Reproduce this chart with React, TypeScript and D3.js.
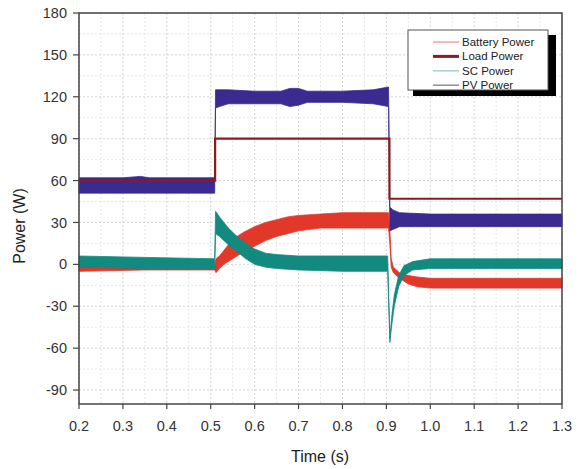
import * as d3 from "d3";

// envelopes of the switching ripple: [time, low, high]
const pvBand: [number, number, number][] = [
  [0.2, 51, 62], [0.3, 51, 62], [0.34, 51, 63], [0.36, 51, 62], [0.509, 51, 62],
  [0.511, 112, 125], [0.52, 113, 125], [0.54, 115, 125], [0.6, 115, 124],
  [0.66, 115, 124], [0.68, 113, 126], [0.7, 114, 126], [0.72, 116, 124],
  [0.8, 116, 124], [0.87, 115, 125], [0.905, 113, 127],
  [0.908, 24, 41], [0.915, 25, 39], [0.93, 27, 37], [1.0, 27, 36], [1.3, 27, 36],
];

const batteryBand: [number, number, number][] = [
  [0.2, -5, -1], [0.35, -4, -1], [0.509, -4, -1], [0.512, -6, 4], [0.52, -3, 6],
  [0.53, 0, 10], [0.55, 4, 18], [0.575, 9, 23], [0.6, 13, 27], [0.625, 17, 30],
  [0.65, 20, 32], [0.675, 22, 34], [0.7, 24, 35], [0.75, 26, 36], [0.8, 26, 37],
  [0.905, 26, 37], [0.908, 14, 24], [0.911, -2, 4], [0.916, -6, -2],
  [0.93, -10, -6], [0.95, -14, -8], [0.97, -16, -9], [1.0, -17, -10], [1.3, -17, -10],
];

const scBand: [number, number, number][] = [
  [0.2, -2, 6], [0.35, -3, 5], [0.509, -3, 4], [0.511, 22, 38], [0.52, 20, 34],
  [0.54, 14, 26], [0.56, 9, 20], [0.58, 4, 15], [0.6, 0, 11], [0.625, -2, 8],
  [0.65, -3, 7], [0.7, -4, 6], [0.8, -5, 6], [0.903, -5, 6],
  [0.908, -56, -53], [0.912, -44, -38], [0.918, -30, -22], [0.928, -16, -8],
  [0.94, -8, -1], [0.96, -4, 2], [1.0, -3, 4], [1.3, -3, 4],
];

const loadSteps: [number, number][] = [
  [0.2, 60], [0.51, 90], [0.907, 47], [1.3, 47],
];

const xTicks = [0.2, 0.3, 0.4, 0.5, 0.6, 0.7, 0.8, 0.9, 1.0, 1.1, 1.2, 1.3];
const yTicks = [-90, -60, -30, 0, 30, 60, 90, 120, 150, 180];
const legendItems = [
  { name: "Battery Power", color: "#f4a3a3", width: 1.5 },
  { name: "Load Power", color: "#8c1c1c", width: 3 },
  { name: "SC Power", color: "#a6d1cb", width: 1.5 },
  { name: "PV Power", color: "#8f89b8", width: 1.5 },
];

const font = "'Liberation Sans', Arial, sans-serif";

export default function App() {
  const width = 580;
  const height = 469;
  const x = d3.scaleLinear().domain([0.2, 1.3]).range([79, 562]);
  const y = d3.scaleLinear().domain([-100, 180]).range([404, 13]);

  const band = d3
    .area<[number, number, number]>()
    .x((d) => x(d[0]))
    .y0((d) => y(d[1]))
    .y1((d) => y(d[2]));
  const load = d3
    .line<[number, number]>()
    .x((d) => x(d[0]))
    .y((d) => y(d[1]))
    .curve(d3.curveStepAfter);

  const minorX = d3.range(0.25, 1.3, 0.1);
  const minorY = d3.range(-75, 180, 30);

  return (
    <svg
      width={width}
      height={height}
      style={{ display: "block", position: "absolute", left: 0, top: 0 }}
    >
      <rect width={width} height={height} fill="#fff" />
      {/* grid */}
      {minorX.map((t) => (
        <line key={"mx" + t} x1={x(t)} x2={x(t)} y1={13} y2={404} stroke="#e6e6e6" strokeDasharray="2,2" />
      ))}
      {minorY.map((v) => (
        <line key={"my" + v} x1={79} x2={562} y1={y(v)} y2={y(v)} stroke="#e6e6e6" strokeDasharray="2,2" />
      ))}
      {xTicks.map((t) => (
        <line key={"gx" + t} x1={x(t)} x2={x(t)} y1={13} y2={404} stroke="#d4d4d4" strokeDasharray="2,2" />
      ))}
      {yTicks.map((v) => (
        <line key={"gy" + v} x1={79} x2={562} y1={y(v)} y2={y(v)} stroke="#d4d4d4" strokeDasharray="2,2" />
      ))}

      {/* series */}
      <path d={band(batteryBand) ?? ""} fill="#e2382a" stroke="#e2382a" strokeWidth={0.8} />
      <path d={band(scBand) ?? ""} fill="#138a80" stroke="#138a80" strokeWidth={0.8} />
      <path d={band(pvBand) ?? ""} fill="#3b2a90" stroke="#3b2a90" strokeWidth={0.8} />
      <path d={load(loadSteps) ?? ""} fill="none" stroke="#8c1c1c" strokeWidth={2.2} />

      {/* frame */}
      <rect x={79} y={13} width={562 - 79} height={404 - 13} fill="none" stroke="#444" strokeWidth={1.5} />

      {/* axes */}
      {xTicks.map((t) => (
        <g key={"xt" + t} transform={`translate(${x(t)},404)`}>
          <line y2={5} stroke="#444" strokeWidth={1.2} />
          <text y={27} textAnchor="middle" fontFamily={font} fontSize={14.5} fill="#333">
            {t.toFixed(1)}
          </text>
        </g>
      ))}
      {yTicks.map((v) => (
        <g key={"yt" + v} transform={`translate(79,${y(v)})`}>
          <line x2={-6} stroke="#444" strokeWidth={1.2} />
          <text x={-12} dy="0.35em" textAnchor="end" fontFamily={font} fontSize={14.5} fill="#333">
            {v}
          </text>
        </g>
      ))}
      <text x={320} y={462} textAnchor="middle" fontFamily={font} fontSize={16} fill="#222">
        Time (s)
      </text>
      <text
        transform="translate(25,226) rotate(-90)"
        textAnchor="middle"
        fontFamily={font}
        fontSize={16}
        fill="#222"
      >
        Power (W)
      </text>

      {/* legend */}
      <rect x={413} y={35} width={143} height={61} fill="#000" />
      <rect x={408} y={30} width={140} height={60} fill="#fff" stroke="#555" strokeWidth={1} />
      {legendItems.map((it, i) => (
        <g key={it.name} transform={`translate(0,${42 + i * 14.4})`}>
          <line x1={433} x2={459} stroke={it.color} strokeWidth={it.width} />
          <text x={462} dy="0.35em" fontFamily={font} fontSize={11.5} fill="#222">
            {it.name}
          </text>
        </g>
      ))}
    </svg>
  );
}
